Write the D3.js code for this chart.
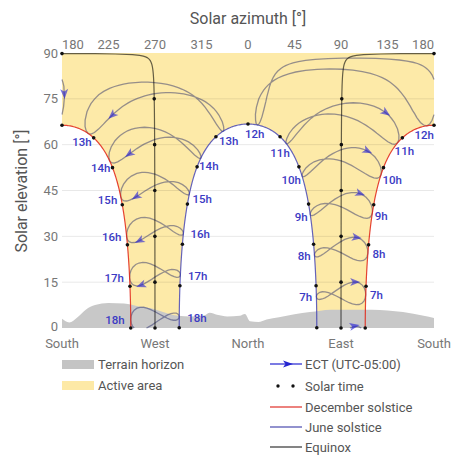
<!DOCTYPE html>
<html><head><meta charset="utf-8">
<script src="https://cdn.jsdelivr.net/npm/d3@7"></script>
<style>
body{margin:0;background:#fff;}
svg text{font-family:Roboto,"Noto Sans",sans-serif;}
</style></head>
<body><svg id="c" width="453" height="459"></svg>
<script>
// ---------------- data ----------------
const latitude = 0.2, longitude = -78.5, zoneMeridian = -75;   // ECT (UTC-05:00)
const xTicks = [-180, -135, -90, -45, 0, 45, 90, 135, 180];      // signed azimuth, west negative
const xTickLabels = ["180", "225", "270", "315", "0", "45", "90", "135", "180"];
const compassTicks = [-180, -90, 0, 90, 180];
const compassLabels = ["South", "West", "North", "East", "South"];
const yTicks = [0, 15, 30, 45, 60, 75, 90];

const pathNames = ["December solstice", "Equinox", "June solstice"];
const pathDeclination = [-23.44, 0, 23.44];
const solarHours = [6, 7, 8, 9, 10, 11, 12, 13, 14, 15, 16, 17, 18];
const labelledHours = [7, 8, 9, 10, 11, 12, 13, 14, 15, 16, 17, 18];
const ectHours = [6, 7, 8, 9, 10, 11, 12, 13, 14, 15, 16, 17, 18];

const dates = ["Jan 1","Jan 11","Jan 21","Feb 1","Feb 11","Feb 21","Mar 1","Mar 11","Mar 21",
  "Apr 1","Apr 11","Apr 21","May 1","May 11","May 21","Jun 1","Jun 11","Jun 21",
  "Jul 1","Jul 11","Jul 21","Aug 1","Aug 11","Aug 21","Sep 1","Sep 11","Sep 21",
  "Oct 1","Oct 11","Oct 21","Nov 1","Nov 11","Nov 21","Dec 1","Dec 11","Dec 21"];
const declination = [-23.0,-21.9,-20.0,-17.3,-14.4,-10.9,-7.8,-4.0,0.1,
  4.5,8.3,11.9,15.0,17.8,20.1,22.0,23.1,23.44,
  23.1,22.1,20.5,18.0,15.3,12.2,8.3,4.5,0.6,
  -3.1,-7.0,-10.7,-14.4,-17.4,-19.9,-21.8,-23.0,-23.44];
const equationOfTime = [-3.4,-7.7,-11.2,-13.5,-14.2,-13.8,-12.5,-10.2,-7.3,
  -4.0,-1.3,1.1,2.9,3.6,3.5,2.2,0.5,-1.6,
  -3.8,-5.4,-6.4,-6.3,-5.3,-3.3,0.0,3.3,6.8,
  10.2,13.1,15.4,16.4,15.9,14.1,11.0,6.8,2.0];
const arrowDate = "Oct 28", arrowDeclination = -13.2, arrowEquationOfTime = 16.2;

const terrainAzimuth = [-180,-173,-165,-157,-148,-135,-120,-105,-92,-80,-68,-55,-42,-37,-30,-20,-8,-3,2,10,18,30,45,60,80,100,120,150,170,180];
const terrainElevation = [3.0,1.8,3.5,6.0,7.5,8.2,8.0,7.0,6.3,5.0,4.0,3.8,4.2,5.0,4.3,3.8,4.0,4.6,2.2,2.0,2.8,3.5,4.5,5.2,6.0,6.0,6.0,5.2,4.0,3.3];

// ---------------- chart ----------------
const svg = d3.select("#c");
const x = d3.scaleLinear().domain([-180, 180]).range([62, 434]);
const y = d3.scaleLinear().domain([0, 90]).range([328, 53]);
const kx = (x(90) - x(0)) / 90, ky = (y(0) - y(90)) / 90;

const rotationAngles = [0, -(90 + latitude), 180];
const toHorizon = d3.geoRotation(rotationAngles);   // [hour angle, decl] -> [azimuth, altitude]
const raw = (l, p) => [l, p * ky / kx];
const projection = d3.geoProjection(raw)
  .rotate(rotationAngles)
  .scale(kx * 180 / Math.PI)
  .translate([x(0), y(0)])
  .clipExtent([[x(-180), y(90) - 2], [x(180), y(0)]])
  .precision(0.1);
const geoPath = d3.geoPath(projection);
const hourAngle = (clock, eot) => 15 * (clock - 12) + (longitude - zoneMeridian) + eot / 4;

const plotW = x(180) - x(-180);
// active area
svg.append("rect").attr("x", x(-180)).attr("y", y(90)).attr("width", plotW)
  .attr("height", y(0) - y(90)).attr("fill", "#fdeaa8");
// caps outside solstice band
[[0, -90], [0, 90]].forEach(c => {
  const cap = d3.geoCircle().center(c).radius(90 - pathDeclination[2]).precision(0.5)();
  svg.append("path").attr("d", geoPath(cap)).attr("fill", "#fff");
});
// grid
svg.append("g").selectAll("line").data(yTicks.filter(t => t > 0 && t < 90)).join("line")
  .attr("x1", x(-180)).attr("x2", x(180)).attr("y1", d => y(d)).attr("y2", d => y(d))
  .attr("stroke", "rgba(0,0,0,0.09)").attr("stroke-width", 1);
// terrain
const terrain = terrainAzimuth.map((a, i) => [a, terrainElevation[i]]);
svg.append("path").datum(terrain)
  .attr("d", d3.area().x(d => x(d[0])).y0(y(0)).y1(d => y(d[1])).curve(d3.curveMonotoneX))
  .attr("fill", "#c8c8c8");

// analemmas (ECT clock hours)
const ga = svg.append("g");
ectHours.forEach(h => {
  const coords = dates.map((d, i) => [hourAngle(h, equationOfTime[i]), declination[i]]);
  coords.push(coords[0]);
  ga.append("path").attr("d", geoPath({type: "LineString", coordinates: coords}))
    .attr("fill", "none").attr("stroke", "rgba(25,30,100,0.45)").attr("stroke-width", 1.3);
});

// solstice / equinox paths
const pathColors = ["rgba(225,35,20,0.85)", "rgba(0,0,0,0.6)", "rgba(50,50,175,0.75)"];
pathDeclination.forEach((dec, i) => {
  const ring = d3.geoCircle().center([0, 90]).radius(90 - dec).precision(0.5)().coordinates[0];
  svg.append("path").attr("d", geoPath({type: "LineString", coordinates: ring}))
    .attr("fill", "none").attr("stroke", pathColors[i]).attr("stroke-width", 1.2);
});

// solar time dots and labels
const dotLayer = svg.append("g"), labelLayer = svg.append("g");
function labelPlacement(pathIdx, h) {
  if (pathIdx === 0) {
    if (h > 12) return ({13: [-2, 4], 14: [-2, 0], 15: [-5, -5]}[h] || [-6, -8]).concat("end");
    if (h === 12) return [0, 10, "end"];
    if (h === 11) return [2, 13, "middle"];
    return ({10: [-1, 12], 9: [1, 11]}[h] || [4, 9]).concat("start");
  } else {
    if (h > 12) return ({13: [3, 4], 14: [2, -1], 15: [5, -5]}[h] || [8, -10]).concat("start");
    if (h === 12) return [-3, 10, "start"];
    if (h === 11) return [0, 16, "middle"];
    return ({10: [2, 13], 9: [-1, 13], 8: [-3, 12]}[h] || [-4, 11]).concat("end");
  }
}
pathDeclination.forEach((dec, pi) => {
  solarHours.forEach(h => {
    const H = 15 * (h - 12);
    const hz = toHorizon([H, dec]);
    if (hz[1] < -1) return;
    let p = projection([H, dec]);
    const py = Math.min(p[1], y(0));
    let xs = [p[0]];
    if (Math.abs(hz[0]) > 179.5) xs = [x(-180), x(180)];
    xs.forEach(px => dotLayer.append("circle").attr("cx", px).attr("cy", py).attr("r", 1.8).attr("fill", "#111"));
    if (pi !== 1 && labelledHours.includes(h)) {
      const [dx, dy, anchor] = labelPlacement(pi, h);
      const px = (h === 12 && pi === 0) ? x(180) : p[0];
      labelLayer.append("text").attr("x", px + dx).attr("y", py + dy)
        .attr("text-anchor", anchor).attr("dominant-baseline", "central")
        .attr("font-size", 11.5).attr("font-weight", 500).attr("fill", "#3b3bc4").text(h + "h");
    }
  });
});

// direction arrows on analemmas
const iPrev = dates.indexOf("Oct 21"), iNext = dates.indexOf("Nov 1");
ectHours.forEach(h => {
  const H = hourAngle(h, arrowEquationOfTime);
  const hz = toHorizon([H, arrowDeclination]);
  if (hz[1] < 0) return;
  const p = projection([H, arrowDeclination]);
  const a = projection([hourAngle(h, equationOfTime[iPrev]), declination[iPrev]]);
  const b = projection([hourAngle(h, equationOfTime[iNext]), declination[iNext]]);
  const ang = Math.atan2(b[1] - a[1], b[0] - a[0]) * 180 / Math.PI;
  svg.append("path").attr("d", "M5,0 L-5,-4 L-2.5,0 L-5,4 Z")
    .attr("transform", `translate(${p[0]},${Math.min(p[1], y(0) - 2)}) rotate(${ang})`)
    .attr("fill", "rgba(30,25,215,0.6)");
});

// axes text
const tickText = "#777";
svg.append("g").selectAll("text").data(xTicks).join("text")
  .attr("x", d => x(d)).attr("y", 44)
  .attr("text-anchor", (d, i) => i === 0 ? "start" : i === xTicks.length - 1 ? "end" : "middle")
  .attr("dominant-baseline", "central").attr("font-size", 13).attr("fill", tickText)
  .text((d, i) => xTickLabels[i]);
svg.append("g").selectAll("text").data(compassTicks).join("text")
  .attr("x", d => x(d)).attr("y", 343).attr("text-anchor", "middle")
  .attr("dominant-baseline", "central").attr("font-size", 13).attr("fill", tickText)
  .text((d, i) => compassLabels[i]);
svg.append("g").selectAll("text").data(yTicks).join("text")
  .attr("x", 58).attr("y", d => y(d) - (d === 0 ? 1.5 : 0)).attr("text-anchor", "end")
  .attr("dominant-baseline", "central").attr("font-size", 13).attr("fill", tickText).text(d => d);
svg.append("text").attr("x", 248).attr("y", 18).attr("text-anchor", "middle")
  .attr("dominant-baseline", "central").attr("font-size", 16).attr("fill", "#555").text("Solar azimuth [°]");
svg.append("text").attr("transform", "translate(21,191) rotate(-90)").attr("text-anchor", "middle")
  .attr("dominant-baseline", "central").attr("font-size", 16).attr("fill", "#555").text("Solar elevation [°]");

// legend
const lg = svg.append("g").attr("font-size", 13).attr("fill", "#555");
lg.append("rect").attr("x", 62).attr("y", 360).attr("width", 32).attr("height", 9).attr("fill", "#c4c4c4");
lg.append("text").attr("x", 98).attr("y", 364).attr("dominant-baseline", "central").text("Terrain horizon");
lg.append("rect").attr("x", 62).attr("y", 381).attr("width", 32).attr("height", 9).attr("fill", "#fde9a6");
lg.append("text").attr("x", 98).attr("y", 385).attr("dominant-baseline", "central").text("Active area");
const rl = [
  {t: "ECT (UTC-05:00)", y: 364, kind: "arrow", c: "#2424d0"},
  {t: "Solar time", y: 386, kind: "dots", c: "#111"},
  {t: "December solstice", y: 407, kind: "line", c: "#e03028"},
  {t: "June solstice", y: 427, kind: "line", c: "#4a4aae"},
  {t: "Equinox", y: 447, kind: "line", c: "#333"}];
rl.forEach(r => {
  if (r.kind === "dots") {
    [278, 293].forEach(cx => lg.append("circle").attr("cx", cx).attr("cy", r.y).attr("r", 1.7).attr("fill", r.c));
  } else {
    lg.append("line").attr("x1", 270).attr("x2", 302).attr("y1", r.y).attr("y2", r.y)
      .attr("stroke", r.c).attr("stroke-width", 1.2);
    if (r.kind === "arrow") lg.append("path").attr("d", "M5,0 L-5,-3.5 L-2.5,0 L-5,3.5 Z")
      .attr("transform", `translate(288,${r.y})`).attr("fill", r.c);
  }
  lg.append("text").attr("x", 305).attr("y", r.y).attr("dominant-baseline", "central").text(r.t);
});
</script></body></html>
